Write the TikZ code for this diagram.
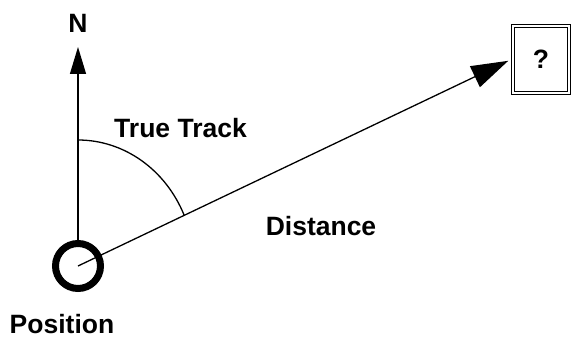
\documentclass[tikz,border=0pt]{standalone}
\usepackage{fontspec}
\setmainfont{Liberation Sans}
\usetikzlibrary{arrows.meta,positioning}

\begin{document}
\begin{tikzpicture}[x=1pt,y=1pt,
  every node/.style={font=\bfseries\fontsize{26.5}{30}\selectfont},
  lbl/.style={anchor=base,inner sep=0pt},
  posring/.style={circle,draw,line width=7pt,minimum size=45pt,inner sep=0pt},
  qbox/.style={draw,double,line width=1pt,double distance=2pt,
    minimum width=56pt,minimum height=67pt,inner sep=0pt,outer sep=2pt},
  ptr/.style={line width=1.3pt,-{Triangle[length=27pt,width=16pt]}},
  trk/.style={line width=1.3pt,-{Triangle[length=37pt,width=23pt]},shorten >=3pt}]
  \useasboundingbox (0,0) rectangle (572,338);
  \node[posring] (pos) at (78,72) {};
  \node[qbox] (dest) at (541,278.5) {?};
  \coordinate (ntip) at (78,291);
  \node[lbl,anchor=south,above=14pt of ntip] (nlbl) {N};
  \node[lbl] (tt) at (180.5,201) {True Track};
  \node[lbl] (dist) at (321,103) {Distance};
  \node[lbl] (plbl) at (62,4.5) {Position};
  \draw[ptr] (pos) -- (ntip);
  \draw[trk] (pos.center) -- (dest.west);
  % true track angle
  \draw[line width=1.3pt] ([yshift=126pt]pos.center)
    arc[start angle=90,end angle=23.7,x radius=116,y radius=126];
\end{tikzpicture}
\end{document}
